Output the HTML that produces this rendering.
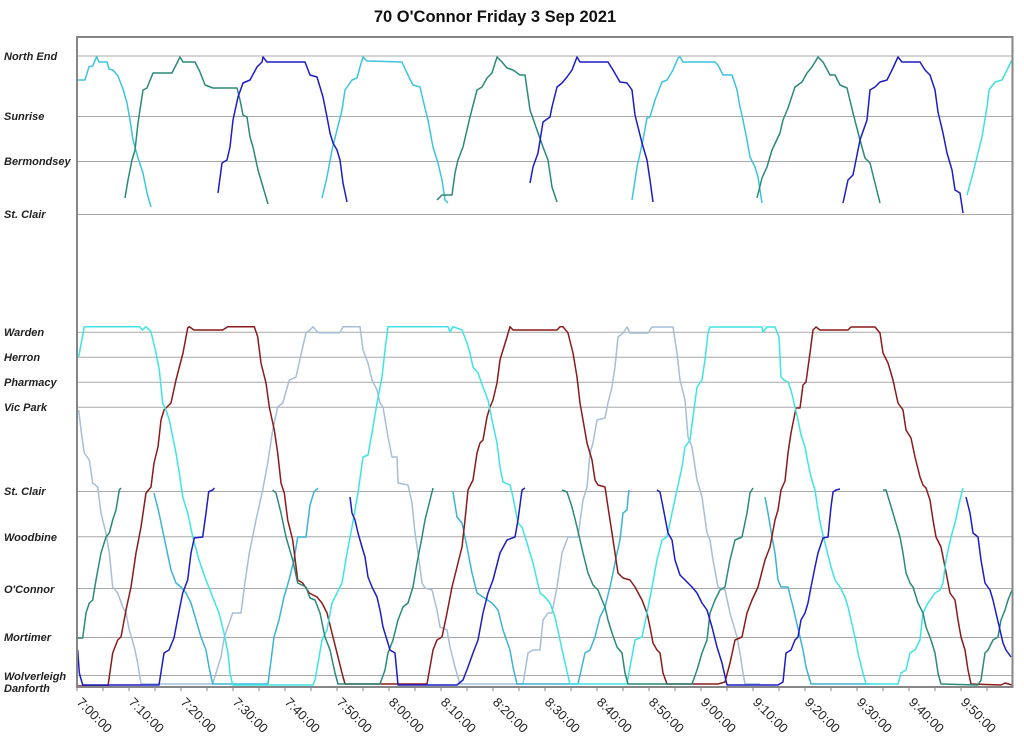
<!DOCTYPE html>
<html><head><meta charset="utf-8"><style>
html,body{margin:0;padding:0;background:#fff;}
svg{display:block;}
.yl{font-family:"Liberation Sans",sans-serif;font-size:11px;font-weight:bold;font-style:italic;fill:#222;}
.xl{font-family:"Liberation Sans",sans-serif;font-size:13px;fill:#222;}
polyline{fill:none;stroke-width:1.5;stroke-linejoin:round;}
.g{stroke:#a8a8a8;stroke-width:1;}
</style></head><body>
<svg width="1024" height="737" viewBox="0 0 1024 737" xmlns="http://www.w3.org/2000/svg">
<rect width="1024" height="737" fill="#fff"/>
<text x="495" y="22" text-anchor="middle" font-family="Liberation Sans, sans-serif" font-size="16.5" font-weight="bold" fill="#111">70 O'Connor Friday 3 Sep 2021</text>

<g class="g">
<line x1="77" y1="56" x2="1012" y2="56"/>
<line x1="77" y1="116.5" x2="1012" y2="116.5"/>
<line x1="77" y1="161.5" x2="1012" y2="161.5"/>
<line x1="77" y1="214.5" x2="1012" y2="214.5"/>
<line x1="77" y1="332.3" x2="1012" y2="332.3"/>
<line x1="77" y1="357.3" x2="1012" y2="357.3"/>
<line x1="77" y1="382.3" x2="1012" y2="382.3"/>
<line x1="77" y1="407.3" x2="1012" y2="407.3"/>
<line x1="77" y1="491.5" x2="1012" y2="491.5"/>
<line x1="77" y1="536.7" x2="1012" y2="536.7"/>
<line x1="77" y1="588.5" x2="1012" y2="588.5"/>
<line x1="77" y1="637.5" x2="1012" y2="637.5"/>
<line x1="77" y1="675.5" x2="1012" y2="675.5"/>
</g>

<g class="yl">
<text x="4" y="60">North End</text>
<text x="4" y="120">Sunrise</text>
<text x="4" y="165">Bermondsey</text>
<text x="4" y="218">St. Clair</text>
<text x="4" y="336">Warden</text>
<text x="4" y="361">Herron</text>
<text x="4" y="386">Pharmacy</text>
<text x="4" y="411">Vic Park</text>
<text x="4" y="495">St. Clair</text>
<text x="4" y="541">Woodbine</text>
<text x="4" y="593">O'Connor</text>
<text x="4" y="641">Mortimer</text>
<text x="4" y="680">Wolverleigh</text>
<text x="4" y="692">Danforth</text>
</g>

<!-- Top panel -->
<g stroke="#3cc4de">
<polyline points="77.7,80 85,80 89,66.7 92.7,66 96.7,56.7 99,62 107,62 109,69 113,70 118,76 123,89 127,103 130,120 133,140 138,158 143,173 147,193 151,207"/>
<polyline points="322,198 327,177 332,150 337,130 342,110 345,90 352,80 357,78 360,67 363,57 367,61 402,62 407,73 413,85 420,87 423,100 428,120 433,147 438,163 442,180 445,200 448,203"/>
<polyline points="632,200 637,167 643,140 647,118 650,117 655,100 662,82 667,80 673,70 678,58 680,57 683,62 715,62 718,65 723,75 732,75 737,90 740,107 743,120 747,140 750,157 755,167 758,177 762,203"/>
</g>
<polyline stroke="#40dede" points="967,195 972,177 977,157 982,137 987,107 989,90 995,82 1002,80 1007,70 1012,60"/>
<g stroke="#2a8a7a">
<polyline points="125,198 128,180 132,160 135,150 138,123 143,90 147,88 153,73 172,73 175,67 180,57 183,62 195,62 200,72 205,85 213,88 237,88 240,100 243,115 247,117 250,137 253,147 258,170 263,187 268,204"/>
<polyline points="437,200 442,195 452,195 455,173 458,160 463,147 470,117 477,90 482,87 487,78 492,73 497,57 502,62 507,68 513,70 520,75 525,75 530,110 537,130 543,147 548,160 552,187 557,202"/>
<polyline points="757,198 762,178 767,167 772,150 780,133 783,120 788,108 795,87 802,82 807,73 812,67 818,57 823,62 830,75 835,75 840,85 847,88 853,113 860,140 865,158 870,163 875,183 880,203"/>
</g>
<g stroke="#1c1cc8">
<polyline points="218,193 222,163 227,160 230,147 233,120 238,97 243,83 250,80 257,67 262,62 263,57 267,62 305,62 310,75 317,77 323,97 327,117 330,133 333,143 337,150 340,160 343,183 347,202"/>
<polyline points="530,183 533,167 538,153 543,122 550,117 552,107 557,87 562,83 567,77 572,70 577,57 580,62 608,62 613,70 620,82 627,83 632,90 635,115 642,143 647,160 650,180 653,202"/>
<polyline points="843,203 848,180 853,175 860,140 867,120 870,90 875,87 880,82 887,80 892,70 898,57 902,62 920,62 925,70 930,75 935,90 938,112 943,133 947,153 952,170 955,190 960,193 963,213"/>
</g>

<!-- Lower panel -->
<polyline stroke="#a6bed8" points="78.7,410 81,430 84.3,453 89.3,460 92.7,483 97.7,487 101,513 106,533 109.3,553 112.7,587 117.7,593 122.7,607 126,613 129.3,630 134.3,647 137.7,663 141,684 212.7,684 216,673 221,657 224.3,637 232.7,613 241,613 244.3,587 249.3,553 256,520 262.7,490 267.7,463 272.7,430 277.7,407 282.7,403 289.3,380 296,377 302.7,347 306,333 310,330 313,326.7 318,332.7 340,332.7 343,326.7 360,326.7 363,350 368,363 372,380 377,390 380,403 383,407 388,437 392,457 397,457 398,483 408,485 412,503 415,533 418,553 422,583 425,588 432,590 437,610 440,627 447,630 450,647 455,667 460,684 523,684 528,653 533,650 540,650 543,620 548,613 552,613 557,587 562,553 568,537 578,537 583,500 587,487 590,453 593,443 597,420 605,418 608,403 612,387 615,367 618,337 623,333 627,327 630,333 648,333 652,327 673,327 677,353 680,380 685,400 688,437 692,447 697,480 702,497 707,533 710,540 713,560 718,587 725,590 730,613 737,637 740,653 743,673 745,684 760,684"/>

<g stroke="#3ab4d4">
<polyline points="154,493 159,513 164,537 171,570 176,583 181,587 186,593 191,603 196,620 201,637 206,650 209,667 212.7,684 268,684 274,637 279,620 284,597 289,580 294,560 297.7,537 306,537 310,505 314,492 318,488"/>
<polyline points="453,492 457,517 462,523 467,547 472,573 477,593 483,597 492,603 498,610 503,630 510,650 513,667 517,684 578,684 585,653 590,650 595,637 600,617 605,607 610,587 613,573 617,553 620,540 623,513 627,510 628,498 629,490"/>
<polyline points="765,497 768,513 772,537 775,553 778,580 781,587 788,587 793,607 796,620 800,637 803,650 806,667 811,684 870,684"/>
</g>

<polyline stroke="#8b1a1a" points="77,686 108,686 112.7,653 117.7,640 121,637 126,610 131,587 136,553 141,527 146,493 151,487 154,463 158,447 161,420 164,410 171,403 176,380 183,353 187.7,328 189.3,326.7 194,330 222.7,330 227.7,326.7 254.3,326.7 257.7,336.7 261,363 266,383 269.3,407 274.3,430 277.7,453 281,483 284.3,493 287.7,520 292.7,540 297.7,580 302.7,583 309.3,593 317,597 322,603 327,613 332,633 337,653 342,673 345,684 427,684 430,667 433,650 437,640 442,637 447,613 452,587 457,567 462,547 465,520 468,490 473,480 477,453 480,443 483,440 487,417 490,407 493,400 497,383 500,360 503,350 507,337 510,326.7 513,330 557,330 560,326.7 563,326.7 568,333 573,353 577,377 580,403 583,420 587,443 592,460 595,480 598,485 605,487 608,507 612,533 615,553 618,573 623,578 630,580 635,587 642,600 647,613 650,627 653,643 657,650 660,653 663,673 667,684 718,684 725,682 730,663 735,640 742,637 747,613 752,600 758,587 765,560 770,547 775,520 778,510 781,490 785,481 788,453 791,433 795,413 796,408 800,408 803,385 806,382 810,353 813,330 816,327 820,330 848,330 851,327 875,327 880,333 883,353 888,363 893,380 898,403 903,410 906,430 911,438 915,457 920,477 923,485 926,488 930,500 933,520 936,537 941,547 945,567 950,593 955,600 958,620 961,637 965,650 968,670 971,684 1001,685 1005,683 1012,685"/>

<polyline stroke="#3ee4e4" points="78.7,356.7 84.3,326.7 139.3,326.7 142.7,330 146,326.7 151,331.7 156,353 159.3,370 162.7,403 166,410 169.3,420 172.7,436.7 176,453 179.3,473 182.7,496.7 187.7,513 192.7,536.7 199,560 206,580 212.7,597 219,613 224,633 228,653 230,673 232.7,685 313,685 315,680 318,663 322,640 327,630 332,603 337,593 342,583 347,553 352,527 358,493 363,457 368,455 372,433 377,403 382,377 385,350 388,326.7 448,326.7 450,332 453,326.7 462,330 467,343 470,353 473,367 478,373 483,387 488,400 492,420 497,443 500,467 503,482 510,485 513,497 518,523 522,527 527,543 533,563 540,593 545,597 550,603 555,617 560,640 565,663 570,684 627,684 630,667 635,640 642,637 647,613 652,587 657,560 662,540 667,537 672,513 677,490 682,467 685,447 690,440 693,417 697,387 702,380 705,360 708,333 710,327 762,327 763,332 767,327 775,327 779,337 781,377 784,380 788,382 791,390 795,407 798,420 801,435 805,447 808,463 811,477 815,490 818,510 821,527 826,547 831,567 835,580 840,587 845,597 848,607 851,620 855,637 858,653 863,673 866,684 898,684 901,673 906,670 910,653 915,650 920,640 923,613 928,603 935,593 940,590 943,583 946,560 951,537 955,523 960,500 963,488"/>

<g stroke="#2a8a7a">
<polyline points="77,638 82.7,638 86,613 89.3,603 92.7,600 96,580 101,553 106,537 109.3,533 112.7,520 116,510 119.3,490 121,488"/>
<polyline points="272.7,490 276,493 281,513 286,537 292.7,560 297.7,583 306,587 310,598 315,600 320,613 325,637 330,650 335,673 338,684 380,684 385,670 388,653 393,640 398,620 403,607 408,603 413,587 417,563 422,537 425,520 430,500 433,488"/>
<polyline points="562,490 567,492 572,507 577,527 580,540 583,553 588,573 593,585 598,590 602,600 605,607 608,620 612,633 617,647 622,653 625,673 628,684 692,684 697,670 702,653 707,640 710,613 715,600 720,590 725,587 730,560 735,540 742,537 747,513 750,493 753,488"/>
<polyline points="883,490 886,490 890,503 895,520 900,537 903,553 906,573 910,583 913,587 918,603 923,613 926,627 931,640 935,653 938,673 941,684 978,685 981,680 985,653 988,650 993,640 998,637 1001,620 1005,610 1008,600 1012,590"/>
</g>

<g stroke="#1c1cc8">
<polyline points="77.7,650 79.3,673 82.7,685 159,685 164,653 169,650 174,638 179.3,610 182.7,593 187.7,580 191,553 194.3,538 202.7,537 206,513 208.7,491.7 212.7,490 214.3,488"/>
<polyline points="350,497 352,513 355,520 358,533 362,547 365,557 368,577 372,587 377,597 380,610 383,627 387,640 390,650 395,653 398,685 457,685 463,680 468,667 473,653 478,640 483,613 488,593 493,580 500,553 507,540 515,537 518,520 522,490 525,488"/>
<polyline points="657,490 660,492 663,507 668,533 672,540 675,560 680,575 685,580 692,587 697,593 702,603 707,610 712,627 717,647 722,663 727,685 778,685 783,682 786,653 791,650 795,640 798,637 801,620 805,613 808,603 811,587 815,567 818,553 823,538 828,537 831,507 833,492 836,490 840,489"/>
<polyline points="966,497 970,513 973,533 978,537 981,560 985,583 990,590 993,600 996,613 1000,630 1003,643 1006,650 1011,657"/>
</g>

<!-- plot border -->
<rect x="77" y="37" width="935.5" height="650" fill="none" stroke="#868686" stroke-width="2"/>

<!-- ticks -->
<g stroke="#868686" stroke-width="1">
<line x1="77" y1="687" x2="77" y2="691"/><line x1="103" y1="687" x2="103" y2="691"/><line x1="129" y1="687" x2="129" y2="691"/><line x1="155" y1="687" x2="155" y2="691"/><line x1="181" y1="687" x2="181" y2="691"/><line x1="207" y1="687" x2="207" y2="691"/><line x1="233" y1="687" x2="233" y2="691"/><line x1="259" y1="687" x2="259" y2="691"/><line x1="285" y1="687" x2="285" y2="691"/><line x1="311" y1="687" x2="311" y2="691"/><line x1="337" y1="687" x2="337" y2="691"/><line x1="363" y1="687" x2="363" y2="691"/><line x1="389" y1="687" x2="389" y2="691"/><line x1="415" y1="687" x2="415" y2="691"/><line x1="441" y1="687" x2="441" y2="691"/><line x1="467" y1="687" x2="467" y2="691"/><line x1="493" y1="687" x2="493" y2="691"/><line x1="519" y1="687" x2="519" y2="691"/><line x1="545" y1="687" x2="545" y2="691"/><line x1="571" y1="687" x2="571" y2="691"/><line x1="597" y1="687" x2="597" y2="691"/><line x1="623" y1="687" x2="623" y2="691"/><line x1="649" y1="687" x2="649" y2="691"/><line x1="675" y1="687" x2="675" y2="691"/><line x1="701" y1="687" x2="701" y2="691"/><line x1="727" y1="687" x2="727" y2="691"/><line x1="753" y1="687" x2="753" y2="691"/><line x1="779" y1="687" x2="779" y2="691"/><line x1="805" y1="687" x2="805" y2="691"/><line x1="831" y1="687" x2="831" y2="691"/><line x1="857" y1="687" x2="857" y2="691"/><line x1="883" y1="687" x2="883" y2="691"/><line x1="909" y1="687" x2="909" y2="691"/><line x1="935" y1="687" x2="935" y2="691"/><line x1="961" y1="687" x2="961" y2="691"/><line x1="987" y1="687" x2="987" y2="691"/>
</g>

<g class="xl">
<text transform="translate(76,703) rotate(45)">7:00:00</text>
<text transform="translate(128,703) rotate(45)">7:10:00</text>
<text transform="translate(180,703) rotate(45)">7:20:00</text>
<text transform="translate(232,703) rotate(45)">7:30:00</text>
<text transform="translate(284,703) rotate(45)">7:40:00</text>
<text transform="translate(336,703) rotate(45)">7:50:00</text>
<text transform="translate(388,703) rotate(45)">8:00:00</text>
<text transform="translate(440,703) rotate(45)">8:10:00</text>
<text transform="translate(492,703) rotate(45)">8:20:00</text>
<text transform="translate(544,703) rotate(45)">8:30:00</text>
<text transform="translate(596,703) rotate(45)">8:40:00</text>
<text transform="translate(648,703) rotate(45)">8:50:00</text>
<text transform="translate(700,703) rotate(45)">9:00:00</text>
<text transform="translate(752,703) rotate(45)">9:10:00</text>
<text transform="translate(804,703) rotate(45)">9:20:00</text>
<text transform="translate(856,703) rotate(45)">9:30:00</text>
<text transform="translate(908,703) rotate(45)">9:40:00</text>
<text transform="translate(960,703) rotate(45)">9:50:00</text>
</g>
</svg>
</body></html>
